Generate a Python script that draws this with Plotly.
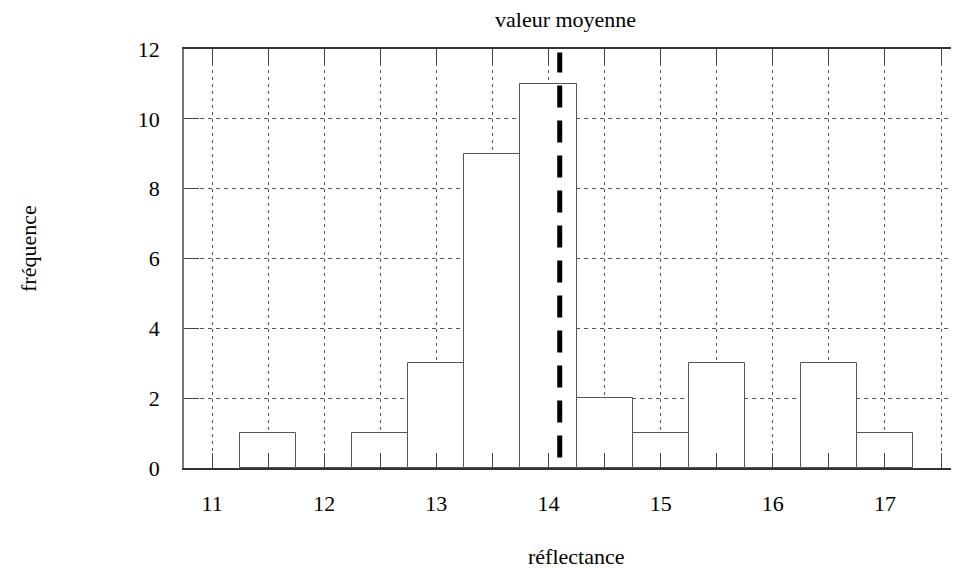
import plotly.graph_objects as go

# Data
bin_centers = [11.5, 12.0, 12.5, 13.0, 13.5, 14.0, 14.5, 15.0, 15.5, 16.0, 16.5, 17.0]
frequencies = [1, 0, 1, 3, 9, 11, 2, 1, 3, 0, 3, 1]
bin_width = 0.5
mean_value = 14.1
mean_line_y = [0.3, 11.9]
x_tick_vals = [11, 11.5, 12, 12.5, 13, 13.5, 14, 14.5, 15, 15.5, 16, 16.5, 17, 17.5]
x_tick_text = ["11", "", "12", "", "13", "", "14", "", "15", "", "16", "", "17", ""]
y_tick_vals = [0, 2, 4, 6, 8, 10, 12]

FONT = "Liberation Serif, Times New Roman, serif"

fig = go.Figure()
fig.add_trace(go.Bar(
    x=bin_centers, y=frequencies, width=bin_width,
    marker=dict(color="white", line=dict(color="#555", width=1)),
    showlegend=False, hoverinfo="x+y",
))
fig.add_trace(go.Scatter(
    x=[mean_value, mean_value], y=mean_line_y, mode="lines",
    line=dict(color="black", width=5, dash="22px,13px"),
    showlegend=False,
))

# page body has an 8px margin, so the figure is 8px smaller and margins shifted
fig.update_layout(
    width=951, height=560,
    margin=dict(l=176, r=0, t=41, b=100),
    paper_bgcolor="white", plot_bgcolor="white",
    font=dict(family=FONT, size=22, color="black"),
    bargap=0,
    xaxis=dict(
        range=[10.75, 17.66], tickmode="array", tickvals=x_tick_vals, ticktext=x_tick_text,
        showgrid=True, gridcolor="#555", gridwidth=1, griddash="3px,4px",
        ticks="inside", ticklen=15, tickcolor="#444", tickwidth=1,
        showline=True, linecolor="#333", linewidth=1.5, mirror="ticks",
        zeroline=False, ticklabelstandoff=15,
    ),
    yaxis=dict(
        range=[0, 12], tickmode="array", tickvals=y_tick_vals,
        showgrid=True, gridcolor="#555", gridwidth=1, griddash="4px,4px",
        ticks="inside", ticklen=15, tickcolor="#444", tickwidth=1,
        showline=True, linecolor="#777", linewidth=1.5,
        zeroline=False, ticklabelstandoff=18,
    ),
    annotations=[
        dict(text="valeur moyenne", x=mean_value + 0.05, xref="x", y=1, yref="paper",
             xanchor="center", yanchor="bottom", yshift=15, showarrow=False),
        dict(text="réflectance", x=0.506, xref="paper", y=0, yref="paper",
             xanchor="center", yanchor="middle", yshift=-88, showarrow=False),
        dict(text="fréquence", x=-0.2013, xref="paper", y=0.525, yref="paper",
             xanchor="center", yanchor="middle", textangle=-90, showarrow=False),
    ],
)

fig.write_html("out.html")
